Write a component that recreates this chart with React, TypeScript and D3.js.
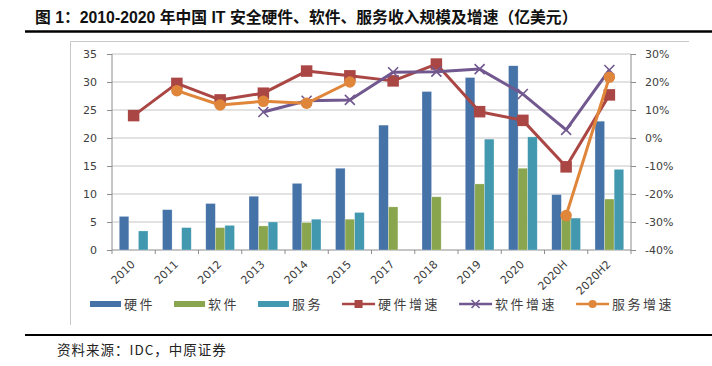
import React, { useEffect, useRef } from 'react';
import * as d3 from 'd3';

// values (亿美元 / %)
const categories = ['2010', '2011', '2012', '2013', '2014', '2015', '2017', '2018', '2019', '2020', '2020H', '2020H2'];
const hardware = [6.0, 7.2, 8.3, 9.6, 11.9, 14.6, 22.3, 28.3, 30.8, 32.9, 9.9, 23.0];
const software = [null, null, 4.0, 4.3, 4.9, 5.5, 7.7, 9.5, 11.8, 14.6, 6.2, 9.1];
const services = [3.4, 4.0, 4.4, 5.0, 5.5, 6.7, null, null, 19.8, 20.2, 5.7, 14.4];
const hardwareGrowth = [8.0, 19.5, 13.6, 16.0, 23.9, 22.2, 20.4, 26.4, 9.4, 6.3, -10.3, 15.4];
const softwareGrowth = [null, null, null, 9.3, 13.3, 13.6, 23.5, 23.7, 24.6, 15.7, 2.9, 24.3];
const servicesGrowth = [null, 16.9, 11.8, 13.1, 12.4, 20.0, null, null, null, null, -27.7, 21.7];
const leftTicks = [0, 5, 10, 15, 20, 25, 30, 35];
const rightTicks = [-40, -30, -20, -10, 0, 10, 20, 30];

const title = '图 1：2010-2020 年中国 IT 安全硬件、软件、服务收入规模及增速（亿美元）';
const source = '资料来源：IDC，中原证券';

const App = () => {
  const svgRef = useRef();

  useEffect(() => {
    document.body.style.margin = '0';
    const svg = d3.select(svgRef.current);
    svg.selectAll('*').remove();

    const width = 712, height = 366;
    const plot = { left: 112, right: 631, top: 54, bottom: 250 };
    const cjk = '"Noto Sans CJK SC", sans-serif';
    const num = '"DejaVu Sans", sans-serif';

    svg.attr('width', width).attr('height', height);

    // Title + rules
    svg.append('text')
      .attr('x', 35).attr('y', 23)
      .style('font-family', '"Liberation Sans", "Noto Sans CJK SC", sans-serif')
      .style('font-size', '15.8px').style('font-weight', 'bold')
      .style('fill', '#111')
      .text(title);
    svg.append('line').attr('x1', 25).attr('x2', 712).attr('y1', 31.5).attr('y2', 31.5)
      .style('stroke', '#000').style('stroke-width', 2.5);
    svg.append('line').attr('x1', 25).attr('x2', 712).attr('y1', 335).attr('y2', 335)
      .style('stroke', '#000').style('stroke-width', 2);
    svg.append('text')
      .attr('x', 57).attr('y', 355)
      .style('font-family', cjk).style('font-size', '13.5px')
      .style('letter-spacing', '1px').style('fill', '#222')
      .text(source);

    // chart frame (partly visible)
    svg.append('path')
      .attr('d', `M70.5,325 V41.5 H689`)
      .style('fill', 'none').style('stroke', '#c8c8c8').style('stroke-width', 1);

    // Scales
    const x = d3.scaleBand().domain(categories)
      .range([plot.left, plot.right]).paddingInner(0.336).paddingOuter(0.168);
    const step = x.step();
    const xs = d3.scaleBand().domain(['hw', 'sw', 'sv']).range([0, x.bandwidth()]);
    const yL = d3.scaleLinear().domain([0, 35]).range([plot.bottom, plot.top]);
    const yR = d3.scaleLinear().domain([-40, 30]).range([plot.bottom, plot.top]);
    const cx = c => x(c) + x.bandwidth() / 2;

    // grid lines
    const g = svg.append('g');
    g.append('g').selectAll('line').data(leftTicks.filter(t => t > 0)).enter().append('line')
      .attr('x1', plot.left).attr('x2', plot.right)
      .attr('y1', d => yL(d)).attr('y2', d => yL(d))
      .style('stroke', '#d9d9d9').style('stroke-width', 1.5);

    // axes
    const axisColor = '#8c8c8c';
    const leftAxis = g.append('g').attr('transform', `translate(${plot.left},0)`)
      .call(d3.axisLeft(yL).tickValues(leftTicks).tickSize(5).tickPadding(10));
    const rightAxis = g.append('g').attr('transform', `translate(${plot.right},0)`)
      .call(d3.axisRight(yR).tickValues(rightTicks).tickSize(5).tickPadding(9)
        .tickFormat(d => `${d}%`));
    [leftAxis, rightAxis].forEach(a => {
      a.selectAll('.domain').style('stroke', axisColor).attr('d', null);
      a.selectAll('.tick line').style('stroke', axisColor);
      a.selectAll('text').style('font-family', num).style('font-size', '11px').style('fill', '#404040');
    });
    g.append('line').attr('x1', plot.left).attr('x2', plot.left).attr('y1', plot.top).attr('y2', plot.bottom)
      .style('stroke', axisColor);
    g.append('line').attr('x1', plot.right).attr('x2', plot.right).attr('y1', plot.top).attr('y2', plot.bottom)
      .style('stroke', axisColor);

    // bottom axis with ticks at band edges
    const edges = d3.range(categories.length + 1).map(i => plot.left + i * step);
    g.append('line').attr('x1', plot.left).attr('x2', plot.right)
      .attr('y1', plot.bottom).attr('y2', plot.bottom).style('stroke', axisColor);
    g.append('g').selectAll('line').data(edges).enter().append('line')
      .attr('x1', d => d).attr('x2', d => d).attr('y1', plot.bottom).attr('y2', plot.bottom + 4)
      .style('stroke', axisColor);
    g.append('g').selectAll('text').data(categories).enter().append('text')
      .attr('transform', d => `translate(${cx(d) + 2},${plot.bottom + 15}) rotate(-45)`)
      .attr('text-anchor', 'end')
      .style('font-family', num).style('font-size', '11px').style('fill', '#404040')
      .text(d => d);

    // bars
    const barSeries = [
      { key: 'hw', name: '硬件', values: hardware, color: '#4572a7' },
      { key: 'sw', name: '软件', values: software, color: '#89a54e' },
      { key: 'sv', name: '服务', values: services, color: '#4198af' },
    ];
    barSeries.forEach(s => {
      g.append('g').selectAll('rect')
        .data(categories.map((c, i) => ({ c, v: s.values[i] })).filter(d => d.v != null))
        .enter().append('rect')
        .attr('x', d => x(d.c) + xs(s.key))
        .attr('width', xs.bandwidth())
        .attr('y', d => yL(d.v))
        .attr('height', d => yL(0) - yL(d.v))
        .style('fill', s.color)
        .style('stroke', 'rgba(255,255,255,0.45)').style('stroke-width', 0.6);
    });

    // growth lines
    const lineSeries = [
      { name: '硬件增速', values: hardwareGrowth, color: '#aa4643', marker: 'square' },
      { name: '软件增速', values: softwareGrowth, color: '#71588f', marker: 'x' },
      { name: '服务增速', values: servicesGrowth, color: '#e0863b', marker: 'circle' },
    ];
    const line = d3.line()
      .defined(d => d.v != null)
      .x(d => cx(d.c))
      .y(d => yR(d.v));

    const drawMarker = (sel, type, color, px, py, size) => {
      if (type === 'square') {
        sel.append('rect').attr('x', px - size / 2).attr('y', py - size / 2)
          .attr('width', size).attr('height', size).style('fill', color);
      } else if (type === 'circle') {
        sel.append('circle').attr('cx', px).attr('cy', py).attr('r', size / 2).style('fill', color);
      } else {
        const h = size / 2;
        sel.append('path').attr('d', `M${px - h},${py - h}L${px + h},${py + h}M${px - h},${py + h}L${px + h},${py - h}`)
          .style('stroke', color).style('stroke-width', 1.6).style('fill', 'none');
      }
    };

    lineSeries.forEach(s => {
      const pts = categories.map((c, i) => ({ c, v: s.values[i] }));
      const sg = g.append('g');
      sg.append('path').attr('d', line(pts))
        .style('fill', 'none').style('stroke', s.color).style('stroke-width', 3)
        .style('stroke-linejoin', 'round');
      pts.filter(d => d.v != null).forEach(d => {
        drawMarker(sg, s.marker, s.color, cx(d.c), yR(d.v), s.marker === 'x' ? 10 : 11.5);
      });
    });

    // legend
    const legend = svg.append('g').attr('transform', 'translate(90,304)');
    let lx = 0;
    [...barSeries.map(s => ({ ...s, kind: 'bar' })), ...lineSeries.map(s => ({ ...s, kind: 'line' }))]
      .forEach(item => {
        const it = legend.append('g').attr('transform', `translate(${lx},0)`);
        const sw = item.kind === 'bar' ? 31 : 33;
        if (item.kind === 'bar') {
          it.append('rect').attr('x', 0).attr('y', -3).attr('width', sw).attr('height', 6).style('fill', item.color);
        } else {
          it.append('line').attr('x1', 0).attr('x2', sw).attr('y1', 0).attr('y2', 0)
            .style('stroke', item.color).style('stroke-width', 2.5);
          drawMarker(it, item.marker, item.color, sw / 2, 0, 8);
        }
        const t = it.append('text').attr('x', sw + 3).attr('y', 0).attr('dy', '0.36em')
          .style('font-family', cjk).style('font-size', '13px')
          .style('letter-spacing', '2.5px').style('fill', '#404040')
          .text(item.name);
        lx += sw + 3 + t.node().getComputedTextLength() + 19;
      });
  }, []);

  return <svg ref={svgRef} style={{ display: 'block' }}></svg>;
};

export default App;
